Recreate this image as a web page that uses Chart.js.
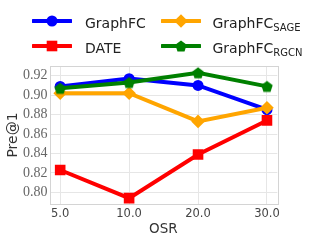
<!DOCTYPE html>
<html><head><meta charset="utf-8">
<script src="https://cdn.jsdelivr.net/npm/chart.js@4/dist/chart.umd.min.js"></script>
<style>
html,body{margin:0;padding:0;background:#fff;}
#wrap{position:relative;width:319px;height:243px;overflow:hidden;}
#c{position:absolute;left:0;top:0;}
.leg{position:absolute;font-family:"DejaVu Sans";font-size:14px;color:#222;white-space:nowrap;line-height:14px;}
.leg sub{font-size:10px;vertical-align:baseline;position:relative;top:3px;}
.sw{position:absolute;}
</style></head>
<body>
<div id="wrap"><canvas id="c" width="319" height="243"></canvas></div>
<script>
const categories = ['5.0', '10.0', '20.0', '30.0'];
const graphfc = [0.909, 0.917, 0.910, 0.885];
const dateVals = [0.823, 0.794, 0.839, 0.874];
const sage = [0.902, 0.902, 0.873, 0.887];
const rgcn = [0.907, 0.913, 0.923, 0.909];
const yTicks = [0.80, 0.82, 0.84, 0.86, 0.88, 0.90, 0.92];
const seriesNames = ['GraphFC', 'DATE', 'GraphFC', 'GraphFC'];
const seriesSubs = ['', '', 'SAGE', 'RGCN'];
const seriesColors = ['#0000ff', '#ff0000', '#ffa500', '#008000'];

function pentagon(color, r) {
  const s = Math.ceil(r * 2 + 2);
  const cv = document.createElement('canvas');
  cv.width = s; cv.height = s;
  const g = cv.getContext('2d');
  g.fillStyle = color;
  g.beginPath();
  for (let i = 0; i < 5; i++) {
    const a = -Math.PI / 2 + i * 2 * Math.PI / 5;
    const px = s / 2 + r * Math.cos(a), py = s / 2 + r * Math.sin(a) + r * 0.1;
    if (i === 0) g.moveTo(px, py); else g.lineTo(px, py);
  }
  g.closePath(); g.fill();
  return cv;
}
const pent = pentagon('#008000', 6);

const toPts = arr => arr.map((v, i) => ({x: i, y: v}));
const styles = [
  {pointStyle: 'circle', pointRadius: 5.5},
  {pointStyle: 'rect', pointRadius: 7.5},
  {pointStyle: 'rectRot', pointRadius: 6.8},
  {pointStyle: pent, pointRadius: 6}
];
const allData = [graphfc, dateVals, sage, rgcn];

const datasets = allData.map((arr, k) => Object.assign({
  label: seriesNames[k] + seriesSubs[k],
  data: toPts(arr),
  borderColor: seriesColors[k],
  backgroundColor: seriesColors[k],
  borderWidth: 4,
  pointBorderWidth: 0,
  pointHoverRadius: 6,
  order: 4 - k,
  tension: 0
}, styles[k]));

const boxPlugin = {
  id: 'box',
  afterDraw(chart) {
    const a = chart.chartArea, ctx = chart.ctx;
    ctx.save();
    ctx.strokeStyle = '#d4d4d4';
    ctx.lineWidth = 1;
    ctx.strokeRect(Math.round(a.left) + 0.5, Math.round(a.top) + 0.5, Math.round(a.right - a.left), Math.round(a.bottom - a.top));
    ctx.restore();
  }
};

new Chart(document.getElementById('c'), {
  type: 'line',
  data: {datasets},
  options: {
    responsive: false,
    animation: false,
    events: [],
    layout: {padding: {top: 66, right: 41.7, left: 0, bottom: 0}},
    plugins: {legend: {display: false}, tooltip: {enabled: false}},
    scales: {
      x: {
        type: 'linear', min: -0.155, max: 3.15,
        afterBuildTicks: s => { s.ticks = categories.map((c, i) => ({value: i})); },
        afterFit: s => { s.height = 39; },
        ticks: {callback: v => categories[v], font: {family: 'DejaVu Sans', size: 11.5}, color: '#444', padding: 3, maxRotation: 0},
        grid: {color: '#e6e6e6', drawTicks: false},
        border: {display: false},
        title: {display: true, text: 'OSR', font: {family: 'DejaVu Sans', size: 13.5}, color: '#333', padding: {top: 0, bottom: 5}}
      },
      y: {
        min: 0.788, max: 0.930,
        afterBuildTicks: s => { s.ticks = yTicks.map(v => ({value: v})); },
        afterFit: s => { s.width = 49.5; },
        ticks: {callback: v => v.toFixed(2), font: {family: 'Liberation Serif', size: 14}, color: '#666', padding: 2},
        grid: {color: '#e6e6e6', drawTicks: false},
        border: {display: false},
        title: {display: true, text: 'Pre@1', font: {family: 'DejaVu Sans', size: 14}, color: '#333', padding: {top: 4.5, bottom: 0}}
      }
    }
  },
  plugins: [boxPlugin]
});

// legend (HTML, column-major 2x2)
const wrap = document.getElementById('wrap');
const legPos = [
  {lx: 32, tx: 85, cy: 20.5, top: 15.5},
  {lx: 32, tx: 85, cy: 46, top: 41},
  {lx: 160.5, tx: 212.5, cy: 20.5, top: 15.5},
  {lx: 160.5, tx: 212.5, cy: 46, top: 41}
];
function markerSVG(k, cx, cy) {
  const c = seriesColors[k];
  if (k === 0) return `<circle cx="${cx}" cy="${cy}" r="5.5" fill="${c}"/>`;
  if (k === 1) return `<rect x="${cx-5.3}" y="${cy-5.3}" width="10.6" height="10.6" fill="${c}"/>`;
  if (k === 2) return `<polygon points="${cx-6.8},${cy} ${cx},${cy-6.8} ${cx+6.8},${cy} ${cx},${cy+6.8}" fill="${c}"/>`;
  let p = [];
  for (let i = 0; i < 5; i++) { const a = -Math.PI/2 + i*2*Math.PI/5; p.push((cx+6*Math.cos(a)).toFixed(2)+','+(cy+6*Math.sin(a)+0.6).toFixed(2)); }
  return `<polygon points="${p.join(' ')}" fill="${c}"/>`;
}
seriesNames.forEach((n, k) => {
  const P = legPos[k];
  const sw = document.createElement('div');
  sw.className = 'sw';
  sw.style.left = P.lx + 'px'; sw.style.top = (P.cy - 10) + 'px';
  sw.innerHTML = `<svg width="40" height="20" xmlns="http://www.w3.org/2000/svg"><line x1="1" y1="10" x2="39" y2="10" stroke="${seriesColors[k]}" stroke-width="4" stroke-linecap="round"/>${markerSVG(k, 20, 10)}</svg>`;
  wrap.appendChild(sw);
  const t = document.createElement('div');
  t.className = 'leg';
  t.style.left = P.tx + 'px'; t.style.top = P.top + 'px';
  t.innerHTML = n + (seriesSubs[k] ? '<sub>' + seriesSubs[k] + '</sub>' : '');
  wrap.appendChild(t);
});
</script>
</body></html>
